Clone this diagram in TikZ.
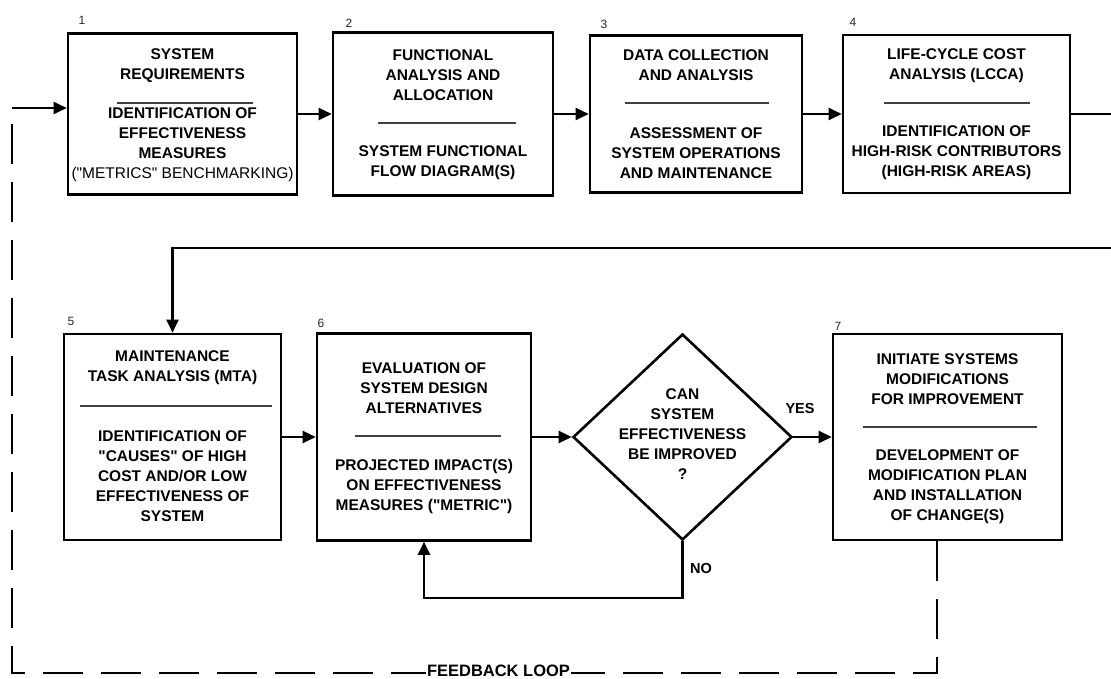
\documentclass[tikz,border=0pt]{standalone}
\usepackage{fontspec}
\setmainfont{Liberation Sans}[Ligatures=TeXOff]
\usetikzlibrary{arrows.meta,shapes.geometric}
\begin{document}
\begin{tikzpicture}[x=1pt,y=-1pt,
 box/.style={draw,line width=2.6pt,inner sep=0pt},
 ttl/.style={align=center,font=\bfseries\fontsize{15.5}{20}\selectfont,inner sep=0pt},
 num/.style={font=\fontsize{12}{14}\selectfont,inner sep=0pt,text=black!85},
 lbl/.style={font=\bfseries\fontsize{14.5}{16}\selectfont,inner sep=0pt},
 conn/.style={line width=2.2pt,-{Triangle[length=13pt,width=12pt]}},
 rul/.style={line width=1.6pt,black!75},
 fbline/.style={line width=2.6pt,dash pattern=on 40pt off 18pt}]
\useasboundingbox (0,0) rectangle (1111,678);
\clip (0,0) rectangle (1111,678);
% boxes row 1
\node[box,minimum width=229pt,minimum height=161pt] (b1) at (182.5,114) {};
\node[box,minimum width=220pt,minimum height=163pt] (b2) at (443,114) {};
\node[box,minimum width=212pt,minimum height=157pt] (b3) at (696,114) {};
\node[box,minimum width=227pt,minimum height=158pt] (b4) at (956.5,114) {};
% boxes row 2
\node[box,minimum width=217pt,minimum height=206pt] (b5) at (172.5,437) {};
\node[box,minimum width=214pt,minimum height=207pt] (b6) at (424,437) {};
\node[draw,diamond,line width=2.6pt,inner sep=0pt,minimum width=219pt,minimum height=206pt] (dia) at (682.5,437) {};
\node[box,minimum width=229pt,minimum height=206pt] (b7) at (947.5,437) {};
% numbers
\node[num] (n1) at (82,20) {1};
\node[num] (n2) at (349,23) {2};
\node[num] (n3) at (604,24) {3};
\node[num] (n4) at (853,22) {4};
\node[num] (n5) at (71,321) {5};
\node[num] (n6) at (321,323) {6};
\node[num] (n7) at (838,326) {7};
% box 1
\node[ttl] (t1) at (182.5,66) {SYSTEM\\REQUIREMENTS};
\draw[rul] (117,103) -- (253,103);
\node[ttl] (d1) at (182.5,145) {IDENTIFICATION OF\\EFFECTIVENESS\\MEASURES\\{\mdseries ("METRICS" BENCHMARKING)}};
% box 2
\node[ttl] (t2) at (443,75) {FUNCTIONAL\\ANALYSIS AND\\ALLOCATION};
\draw[rul] (378,123) -- (516,123);
\node[ttl] (d2) at (443,163) {SYSTEM FUNCTIONAL\\FLOW DIAGRAM(S)};
% box 3
\node[ttl] (t3) at (696,65.5) {DATA COLLECTION\\AND ANALYSIS};
\draw[rul] (625,103) -- (769,103);
\node[ttl] (d3) at (696,153) {ASSESSMENT OF\\SYSTEM OPERATIONS\\AND MAINTENANCE};
% box 4
\node[ttl] (t4) at (956.5,65.5) {LIFE-CYCLE COST\\ANALYSIS (LCCA)};
\draw[rul] (884,103) -- (1030,103);
\node[ttl] (d4) at (956.5,153) {IDENTIFICATION OF\\HIGH-RISK CONTRIBUTORS\\(HIGH-RISK AREAS)};
% box 5
\node[ttl] (t5) at (172.5,367.5) {MAINTENANCE\\TASK ANALYSIS (MTA)};
\draw[rul] (80,406) -- (272,406);
\node[ttl] (d5) at (172.5,476) {IDENTIFICATION OF\\"CAUSES" OF HIGH\\COST AND/OR LOW\\EFFECTIVENESS OF\\SYSTEM};
% box 6
\node[ttl] (t6) at (424,388) {EVALUATION OF\\SYSTEM DESIGN\\ALTERNATIVES};
\draw[rul] (355,436) -- (501,436);
\node[ttl] (d6) at (424,486) {PROJECTED IMPACT(S)\\ON EFFECTIVENESS\\MEASURES ("METRIC")};
% diamond text
\node[ttl] (qt) at (682.5,434.5) {CAN\\SYSTEM\\EFFECTIVENESS\\BE IMPROVED\\?};
% box 7
\node[ttl] (t7) at (947.5,379.5) {INITIATE SYSTEMS\\MODIFICATIONS\\FOR IMPROVEMENT};
\draw[rul] (863,427) -- (1037,427);
\node[ttl] (d7) at (947.5,487) {DEVELOPMENT OF\\MODIFICATION PLAN\\AND INSTALLATION\\OF CHANGE(S)};
% connectors row 1
\draw[conn] (b1.east) -- (b2.west);
\draw[conn] (b2.east) -- (b3.west);
\draw[conn] (b3.east) -- (b4.west);
\draw[conn] (b4.east) -- (1140,114) -- (1140,248) -| (b5.north);
% connectors row 2
\draw[conn] (b5.east) -- (b6.west);
\draw[conn] (b6.east) -- (dia.west);
\draw[conn] (dia.east) -- (b7.west);
\coordinate (noc) at (682.5,598);
\draw[conn] (dia.south) -- (noc) -| (b6.south);
\node[lbl] (yes) at (800,409) {YES};
\node[lbl] (no) at (701,568) {NO};
% feedback loop
\coordinate (fbR) at (937,673);
\coordinate (fbL) at (12,673);
\coordinate (fbT) at (12,108);
\draw[fbline] ([xshift=-10.5pt]b7.south) -- (fbR) -- (fbL) -- (fbT);
\draw[conn] (fbT) -- (fbT -| b1.west);
\node[font=\bfseries\fontsize{16.5}{18}\selectfont,fill=white,inner xsep=1pt,inner ysep=0.5pt,anchor=base] (fbl) at (498.5,676) {FEEDBACK LOOP};
\end{tikzpicture}
\end{document}
